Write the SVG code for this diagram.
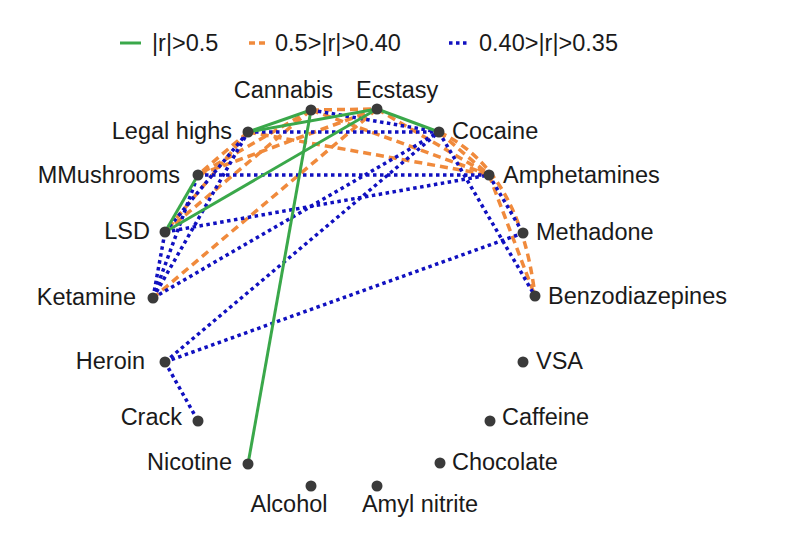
<svg xmlns="http://www.w3.org/2000/svg" width="802" height="538" viewBox="0 0 802 538">
<style>
text{font-family:"Liberation Sans",Arial,sans-serif;font-size:23.5px;fill:#1a1a1a}
.g{stroke:#3aa84a;stroke-width:3;fill:none}
.o{stroke:#f08a3c;stroke-width:3.5;stroke-dasharray:8 5;fill:none}
.b{stroke:#1010c0;stroke-width:3.5;stroke-dasharray:3.5 3.5;fill:none}
.n{fill:#3a3a3a}
</style>
<rect width="802" height="538" fill="#fff"/>
<g id="legend">
<line class="g" x1="120" y1="43" x2="141" y2="43"/>
<text x="152" y="51">|r|&gt;0.5</text>
<line class="o" x1="249" y1="43" x2="269" y2="43" style="stroke-dasharray:6 4"/>
<text x="275" y="51">0.5&gt;|r|&gt;0.40</text>
<line class="b" x1="449" y1="43" x2="469" y2="43"/>
<text x="479" y="51">0.40&gt;|r|&gt;0.35</text>
</g>
<g id="connectors">
<path class="o" d="M311,110L377,109"/>
<path class="o" d="M311,110L198,175"/>
<path class="o" d="M311,110L165,232"/>
<path class="o" d="M311,110L489,175"/>
<path class="o" d="M377,109L198,175"/>
<path class="o" d="M377,109L153,298"/>
<path class="o" d="M377,109L489,175"/>
<path class="o" d="M248,132L198,175"/>
<path class="o" d="M248,132L165,232"/>
<path class="o" d="M248,132L489,175"/>
<path class="o" d="M439,132L489,175"/>
<path class="o" d="M489,175L535,296"/>
<path class="o" d="M439,132Q520,170 535,296"/>
<path class="b" d="M311,110L439,132"/>
<path class="b" d="M248,132L439,132"/>
<path class="b" d="M198,175L489,175"/>
<path class="b" d="M165,232L489,175"/>
<path class="b" d="M153,298L439,132"/>
<path class="b" d="M153,298L165,232"/>
<path class="b" d="M153,298L198,175"/>
<path class="b" d="M153,298L248,132"/>
<path class="b" d="M165,232L248,132"/>
<path class="b" d="M165,362L439,132"/>
<path class="b" d="M165,362L523,233"/>
<path class="b" d="M165,362L198,421"/>
<path class="b" d="M489,175L523,233"/>
<path class="b" d="M439,132L535,296"/>
<path class="g" d="M248,132L311,110"/>
<path class="g" d="M248,132L377,109"/>
<path class="g" d="M377,109L439,132"/>
<path class="g" d="M311,110L248,464"/>
<path class="g" d="M198,175L165,232"/>
<path class="g" d="M165,232L377,109"/>
</g>
<g id="n-cannabis"><circle class="n" cx="311" cy="110" r="5.5"/><text x="333" y="98" text-anchor="end">Cannabis</text></g>
<g id="n-ecstasy"><circle class="n" cx="377" cy="109" r="5.5"/><text x="356" y="98">Ecstasy</text></g>
<g id="n-legalhighs"><circle class="n" cx="248" cy="132" r="5.5"/><text x="232" y="139" text-anchor="end">Legal highs</text></g>
<g id="n-cocaine"><circle class="n" cx="439" cy="132" r="5.5"/><text x="452" y="139">Cocaine</text></g>
<g id="n-mmushrooms"><circle class="n" cx="198" cy="175" r="5.5"/><text x="180" y="183" text-anchor="end">MMushrooms</text></g>
<g id="n-amphetamines"><circle class="n" cx="489" cy="175" r="5.5"/><text x="503" y="183">Amphetamines</text></g>
<g id="n-lsd"><circle class="n" cx="165" cy="232" r="5.5"/><text x="150" y="239" text-anchor="end">LSD</text></g>
<g id="n-methadone"><circle class="n" cx="523" cy="233" r="5.5"/><text x="536" y="240">Methadone</text></g>
<g id="n-ketamine"><circle class="n" cx="153" cy="298" r="5.5"/><text x="136" y="305" text-anchor="end">Ketamine</text></g>
<g id="n-benzodiazepines"><circle class="n" cx="535" cy="296" r="5.5"/><text x="548" y="304">Benzodiazepines</text></g>
<g id="n-heroin"><circle class="n" cx="165" cy="362" r="5.5"/><text x="145" y="369" text-anchor="end">Heroin</text></g>
<g id="n-vsa"><circle class="n" cx="523" cy="362" r="5.5"/><text x="536" y="369">VSA</text></g>
<g id="n-crack"><circle class="n" cx="198" cy="421" r="5.5"/><text x="182" y="425" text-anchor="end">Crack</text></g>
<g id="n-caffeine"><circle class="n" cx="490" cy="421" r="5.5"/><text x="502" y="425">Caffeine</text></g>
<g id="n-nicotine"><circle class="n" cx="248" cy="464" r="5.5"/><text x="232" y="470" text-anchor="end">Nicotine</text></g>
<g id="n-chocolate"><circle class="n" cx="440" cy="463" r="5.5"/><text x="452" y="470">Chocolate</text></g>
<g id="n-alcohol"><circle class="n" cx="311" cy="486" r="5.5"/><text x="289" y="512" text-anchor="middle">Alcohol</text></g>
<g id="n-amylnitrite"><circle class="n" cx="377" cy="486" r="5.5"/><text x="420" y="512" text-anchor="middle">Amyl nitrite</text></g>
</svg>
